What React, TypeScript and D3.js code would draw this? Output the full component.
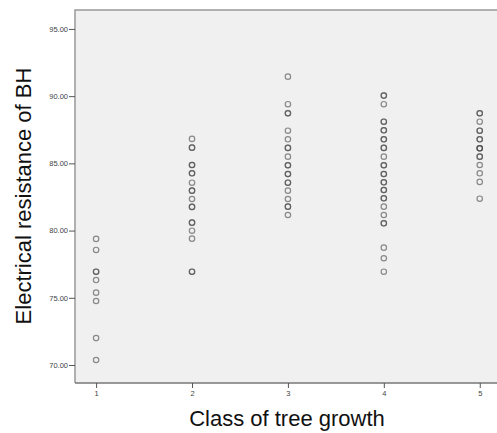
import React, { useEffect, useRef } from 'react';
import * as d3 from 'd3';

// values, one array per growth class (repeats = overlapping points)
const class1Values = [79.38, 78.56, 76.94, 76.94, 76.32, 75.38, 74.76, 72.0, 70.37];
const class2Values = [86.82, 86.17, 86.17, 84.88, 84.88, 84.26, 84.26, 83.56, 82.97, 82.97, 82.35, 81.76, 81.76, 80.59, 80.59, 79.99, 79.4, 76.94, 76.94];
const class3Values = [91.45, 89.4, 88.73, 88.73, 87.43, 86.79, 86.15, 86.15, 85.5, 84.86, 84.86, 84.21, 84.21, 83.56, 83.56, 82.97, 82.35, 81.78, 81.78, 81.16];
const class4Values = [90.04, 90.04, 89.4, 88.1, 88.1, 87.46, 87.46, 86.79, 86.79, 86.15, 86.15, 85.5, 84.86, 84.86, 84.21, 84.21, 83.59, 83.59, 83.02, 83.02, 82.4, 82.4, 81.78, 81.16, 80.54, 80.54, 78.73, 77.94, 76.94];
const class5Values = [88.73, 88.73, 88.1, 87.43, 87.43, 86.79, 86.79, 86.12, 86.12, 86.12, 85.5, 85.5, 84.88, 84.26, 83.62, 82.37];

const classes = [1, 2, 3, 4, 5];
const yTicks = [70, 75, 80, 85, 90, 95];

const App = () => {
  const svgRef = useRef<SVGSVGElement>(null);

  useEffect(() => {
    const svg = d3.select(svgRef.current);
    svg.selectAll('*').remove();

    const width = 497;
    const height = 433;
    const left = 75, top = 10, bottom = 383;

    const x = d3.scaleLinear().domain([0.78, 5.18]).range([left, width]);
    const y = d3.scaleLinear().domain([68.66, 96.41]).range([bottom, top]);

    svg.append('rect').attr('width', width).attr('height', height).attr('fill', '#fff');

    // plot area
    svg.append('rect')
      .attr('x', left).attr('y', top)
      .attr('width', width - left).attr('height', bottom - top)
      .attr('fill', '#f0f0f0');
    svg.append('path')
      .attr('d', `M${left},${bottom}V${top}H${width}`)
      .attr('fill', 'none').attr('stroke', '#999').attr('stroke-width', 1.5);
    svg.append('line')
      .attr('x1', left).attr('x2', width).attr('y1', bottom).attr('y2', bottom)
      .attr('stroke', '#777').attr('stroke-width', 1.5);

    const yAxis = d3.axisLeft(y).tickValues(yTicks).tickSize(6).tickPadding(1).tickFormat(d3.format('.2f'));
    const yg = svg.append('g').attr('transform', `translate(${left},0)`).call(yAxis);
    const xAxis = d3.axisBottom(x).tickValues(classes).tickSize(5).tickPadding(3).tickFormat(d3.format('d'));
    const xg = svg.append('g').attr('transform', `translate(0,${bottom})`).call(xAxis);

    [yg, xg].forEach(g => {
      g.select('.domain').remove();
      g.selectAll('.tick line').attr('stroke', '#555');
      g.selectAll('.tick text')
        .attr('fill', '#444')
        .attr('font-family', 'Arial, Liberation Sans, sans-serif')
        .attr('font-size', 7.5);
    });

    const series = [class1Values, class2Values, class3Values, class4Values, class5Values];
    const points = series.flatMap((vals, i) => vals.map(v => ({ c: classes[i], v })));

    svg.append('g')
      .selectAll('circle')
      .data(points)
      .join('circle')
      .attr('cx', d => x(d.c))
      .attr('cy', d => y(d.v))
      .attr('r', 2.7)
      .attr('fill', 'none')
      .attr('stroke', '#444')
      .attr('stroke-opacity', 0.6)
      .attr('stroke-width', 1.2);

    svg.append('text')
      .attr('x', 287).attr('y', 426)
      .attr('text-anchor', 'middle')
      .attr('font-family', 'Arial, Liberation Sans, sans-serif')
      .attr('font-size', 22)
      .attr('fill', '#111')
      .text('Class of tree growth');

    svg.append('text')
      .attr('transform', 'translate(31,196) rotate(-90)')
      .attr('text-anchor', 'middle')
      .attr('font-family', 'Arial, Liberation Sans, sans-serif')
      .attr('font-size', 22)
      .attr('fill', '#111')
      .text('Electrical resistance of BH');
  }, []);

  return (
    <svg ref={svgRef} width={497} height={433} style={{ position: 'absolute', left: 0, top: 0 }} />
  );
};

export default App;
